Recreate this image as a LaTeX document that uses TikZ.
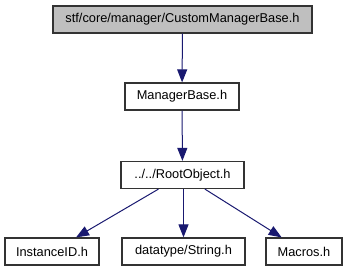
\documentclass[tikz,border=0pt]{standalone}
\usepackage{fontspec}
\setmainfont{Liberation Sans}
\usepackage{tikz}
\usetikzlibrary{arrows.meta,positioning}

\definecolor{edgeblue}{HTML}{191970}
\definecolor{headgray}{HTML}{BFBFBF}

\tikzset{
  hfile/.style={draw=black!80, line width=1.2pt, fill=white, inner sep=0pt,
    minimum height=27pt, font=\fontsize{12.8}{14}\selectfont},
  incl/.style={draw=edgeblue, line width=1pt,
    -{Triangle[length=13pt,width=10pt,fill=edgeblue]}},
}

\begin{document}
\begin{tikzpicture}[x=1pt,y=-1pt]
  \useasboundingbox (0,0) rectangle (347,272);
  % the file itself
  \node[hfile, fill=headgray, minimum width=259pt] (custom) at (182.5,19.5)
    {stf/core/manager/CustomManagerBase.h};
  % direct and indirect includes
  \node[hfile, minimum width=114pt] (mbase) at (182,96.5) {ManagerBase.h};
  \node[hfile, minimum width=123pt] (root) at (182.5,175) {../../RootObject.h};
  \node[hfile, minimum width=94pt] (instid) at (52,251.5) {InstanceID.h};
  \node[hfile, minimum width=123pt] (strh) at (183.5,251.5) {datatype/String.h};
  \node[hfile, minimum width=76pt] (macros) at (304,251.5) {Macros.h};
  % include edges
  \draw[incl] (custom) -- (mbase);
  \draw[incl] (mbase) -- (root);
  \draw[incl] (root) -- (instid);
  \draw[incl] (root.south -| strh) -- (strh);
  \draw[incl] (root) -- (macros);
\end{tikzpicture}
\end{document}
